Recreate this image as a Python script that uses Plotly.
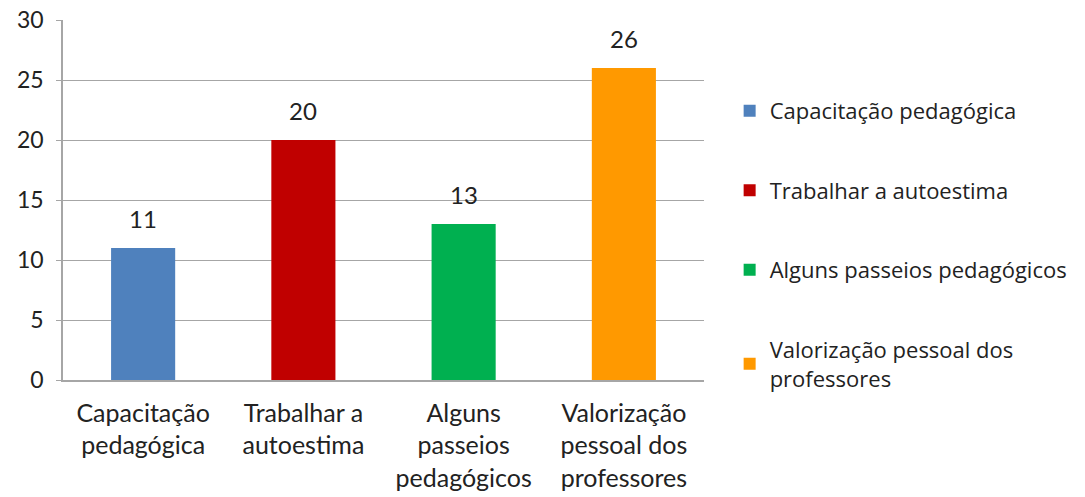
import plotly.graph_objects as go

categories = ["Capacitação pedagógica", "Trabalhar a autoestima",
              "Alguns passeios pedagógicos", "Valorização pessoal dos professores"]
tick_labels = ["Capacitação<br>pedagógica", "Trabalhar a<br>autoestima",
               "Alguns<br>passeios<br>pedagógicos", "Valorização<br>pessoal dos<br>professores"]
legend_labels = ["Capacitação pedagógica", "Trabalhar a autoestima",
                 "Alguns passeios pedagógicos", "Valorização pessoal dos<br>professores"]
values = [11, 20, 13, 26]
colors = ["#4F81BD", "#C00000", "#00B050", "#FF9900"]

fig = go.Figure()
for cat, val, col, leg in zip(categories, values, colors, legend_labels):
    fig.add_trace(go.Bar(x=[cat], y=[val], name=leg, marker=dict(color=col, line=dict(width=0)),
                         width=0.4, legendgroup=cat))
    fig.add_annotation(x=cat, y=val, text=str(val), showarrow=False, yanchor="bottom",
                       yshift=13, font=dict(family="Lato, sans-serif", size=24, color="#222"))

fig.update_layout(
    width=1085, height=497,
    margin=dict(l=55, r=389, t=12, b=125, autoexpand=False),
    plot_bgcolor="white", paper_bgcolor="white",
    barmode="overlay",
    showlegend=True,
    legend=dict(x=1.040, y=0.806, xanchor="left", yanchor="top",
                font=dict(family="Open Sans, sans-serif", size=22, color="#222"),
                tracegroupgap=48, itemwidth=30),
    font=dict(family="Lato, sans-serif", size=25, color="#222"),
)
fig.update_xaxes(tickvals=categories, ticktext=tick_labels, showline=True, linecolor="#a6a6a6",
                 linewidth=1.5, ticks="", showgrid=False, tickfont=dict(size=25),
                 automargin=False, ticklabelstandoff=10)
fig.update_yaxes(range=[0, 30], dtick=5, showgrid=True, gridcolor="#a6a6a6", gridwidth=1,
                 showline=True, linecolor="#a6a6a6", linewidth=1.5, ticks="outside", ticklen=5,
                 tickcolor="#a6a6a6", zeroline=False, tickfont=dict(size=23), automargin=False,
                 ticklabelstandoff=8, ticklabeloverflow="allow")

fig.write_html("out.html")
